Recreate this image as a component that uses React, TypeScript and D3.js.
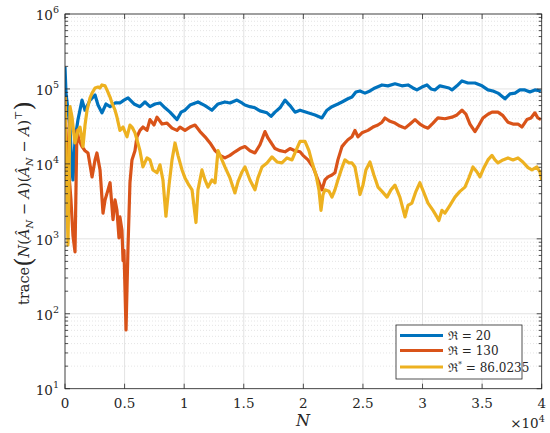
import React from "react";
import * as d3 from "d3";

// sample index N and trace values
const blueN = [0, 84, 420, 590, 670, 840, 1090, 1430, 1680, 2100, 2520, 2770, 3100, 3440, 3780, 4200, 4610, 4950, 5290, 5790, 6290, 6710, 7130, 7550, 7970, 8390, 8810, 9400, 9740, 10070, 10490, 11160, 11750, 12330, 12840, 13420, 13840, 14430, 14850, 15100, 15520, 15940, 16360, 16950, 17290, 17620, 18040, 18460, 18880, 19300, 19720, 20390, 20980, 21560, 21980, 22400, 22900, 23240, 23740, 24080, 24410, 24750, 25170, 25590, 26010, 26600, 27100, 27690, 28270, 28780, 29200, 29530, 29950, 30370, 30710, 31040, 31460, 31880, 32220, 32470, 32890, 33310, 33810, 34400, 34990, 35490, 35910, 36330, 36660, 36920, 37340, 37760, 38170, 38590, 39010, 39430, 39930];
const blueV = [1.96e5, 8.8e4, 3.1e4, 7.8e3, 6.1e3, 2.1e4, 3.9e4, 7.1e4, 5.2e4, 7.1e4, 8.3e4, 6.1e4, 4.8e4, 6.3e4, 5.8e4, 6.5e4, 6.5e4, 7.1e4, 7.6e4, 6.3e4, 5.8e4, 6.7e4, 5.8e4, 6.3e4, 6.5e4, 5.6e4, 4.9e4, 3.9e4, 4.9e4, 5.2e4, 6.1e4, 6.7e4, 6.0e4, 5.2e4, 6.3e4, 6.7e4, 6.5e4, 7.1e4, 6.5e4, 6.1e4, 5.8e4, 5.6e4, 5.1e4, 4.8e4, 4.3e4, 4.9e4, 5.6e4, 7.1e4, 6.0e4, 4.9e4, 5.2e4, 4.8e4, 4.5e4, 4.1e4, 5.2e4, 5.8e4, 6.3e4, 6.7e4, 7.4e4, 7.8e4, 9.1e4, 9.4e4, 8.8e4, 9.4e4, 1.03e5, 1.13e5, 1.1e5, 1.17e5, 1.1e5, 1.13e5, 1.03e5, 9.7e4, 1.06e5, 1.13e5, 1.0e5, 9.7e4, 1.1e5, 1.06e5, 1.03e5, 9.7e4, 1.1e5, 1.28e5, 1.2e5, 1.2e5, 1.1e5, 9.7e4, 9.4e4, 8.8e4, 8.0e4, 7.4e4, 8.6e4, 8.8e4, 9.7e4, 9.7e4, 9.1e4, 9.7e4, 9.4e4];

const redN = [0, 84, 170, 340, 500, 670, 840, 920, 1000, 1170, 1430, 1680, 1930, 2100, 2270, 2520, 2680, 2940, 3190, 3360, 3610, 3780, 4030, 4200, 4360, 4530, 4610, 4780, 4870, 4950, 5120, 5200, 5290, 5450, 5620, 5870, 6040, 6290, 6540, 6880, 7130, 7470, 7720, 8140, 8560, 8980, 9400, 9650, 10070, 10490, 10910, 11330, 11750, 12170, 12590, 13010, 13420, 13840, 14260, 14680, 15100, 15520, 15940, 16360, 16780, 17040, 17620, 18040, 18460, 18880, 19300, 19720, 19970, 20390, 20810, 21230, 21560, 21810, 22070, 22400, 22650, 22900, 23240, 23490, 23740, 24080, 24330, 24580, 24920, 25420, 25840, 26260, 26600, 26850, 27270, 27690, 28100, 28530, 28950, 29370, 29780, 30200, 30460, 30880, 31290, 31880, 32470, 32890, 33310, 33640, 33980, 34400, 34740, 35070, 35490, 35830, 36330, 36750, 37170, 37590, 38010, 38340, 38760, 39100, 39430, 39680, 39930];
const redV = [7.8e4, 2.8e4, 1.5e4, 7.1e3, 3.3e3, 1.1e3, 6.7e2, 4.5e3, 2.8e4, 2.1e4, 1.7e4, 1.5e4, 1.4e4, 9.7e3, 6.7e3, 1.13e4, 1.4e4, 8.3e3, 2.2e3, 3.3e3, 4.5e3, 5.6e3, 1.8e3, 3.3e3, 2.4e3, 1.03e3, 1.96e3, 1.3e3, 5.1e2, 7.0e2, 61, 2.1e2, 8.0e2, 5.6e3, 1.13e4, 1.5e4, 2.3e4, 2.8e4, 3.1e4, 2.8e4, 3.9e4, 3.3e4, 4.2e4, 3.4e4, 3.5e4, 3.0e4, 2.8e4, 3.1e4, 2.8e4, 3.1e4, 3.3e4, 2.7e4, 2.3e4, 1.9e4, 1.5e4, 1.3e4, 1.2e4, 1.3e4, 1.45e4, 1.6e4, 1.7e4, 1.5e4, 1.4e4, 1.8e4, 2.7e4, 2.2e4, 1.6e4, 1.5e4, 1.45e4, 1.6e4, 1.5e4, 1.45e4, 1.3e4, 1.13e4, 9.1e3, 6.1e3, 4.5e3, 6.1e3, 6.7e3, 7.1e3, 7.6e3, 1.13e4, 1.7e4, 1.9e4, 2.1e4, 2.3e4, 2.8e4, 2.3e4, 2.6e4, 2.8e4, 3.1e4, 3.3e4, 3.6e4, 4.1e4, 3.7e4, 3.5e4, 3.2e4, 3.0e4, 3.4e4, 3.9e4, 3.4e4, 3.1e4, 3.0e4, 3.5e4, 4.1e4, 4.0e4, 4.2e4, 4.5e4, 5.2e4, 4.6e4, 3.4e4, 2.7e4, 3.3e4, 4.1e4, 4.6e4, 4.9e4, 4.9e4, 4.4e4, 3.6e4, 3.4e4, 3.4e4, 3.1e4, 3.9e4, 4.1e4, 4.8e4, 4.1e4, 3.9e4];

const yellowN = [0, 84, 170, 250, 340, 420, 590, 760, 840, 1090, 1260, 1510, 1680, 1850, 2100, 2270, 2520, 2770, 2940, 3100, 3360, 3520, 3780, 3940, 4200, 4360, 4610, 4870, 5200, 5450, 5620, 5870, 6040, 6290, 6540, 6880, 7130, 7380, 7720, 7970, 8220, 8470, 8730, 8980, 9230, 9480, 9820, 10070, 10400, 10660, 10990, 11160, 11490, 11750, 12000, 12330, 12590, 12840, 13170, 13420, 13840, 14260, 14520, 14850, 15100, 15520, 15940, 16190, 16530, 16950, 17370, 17790, 18200, 18630, 19050, 19380, 19720, 20140, 20470, 20720, 21060, 21310, 21480, 21650, 21810, 22150, 22400, 22650, 22900, 23240, 23490, 23830, 24080, 24330, 24580, 24750, 25000, 25250, 25590, 25920, 26260, 26600, 27020, 27350, 27690, 28100, 28530, 28780, 29110, 29450, 29780, 30120, 30460, 30880, 31210, 31370, 31630, 31880, 32300, 32720, 33140, 33560, 33890, 34230, 34570, 34820, 35150, 35490, 35830, 36080, 36330, 36750, 37170, 37590, 38010, 38420, 38850, 39180, 39600, 39850, 40000];
const yellowV = [7.8e4, 1.5e4, 3.3e3, 8.3e2, 6.1e3, 5.8e4, 4.2e4, 2.4e4, 1.9e4, 2.8e4, 3.1e4, 1.7e4, 3.3e4, 5.2e4, 7.6e4, 8.8e4, 1.03e5, 1.06e5, 1.03e5, 1.13e5, 1.1e5, 9.7e4, 7.8e4, 6.5e4, 5.2e4, 4.2e4, 2.8e4, 3.1e4, 2.3e4, 3.3e4, 3.1e4, 2.6e4, 2.1e4, 1.5e4, 9.1e3, 1.2e4, 1.13e4, 8.3e3, 7.6e3, 9.7e3, 6.1e3, 2.0e3, 5.2e3, 1.13e4, 1.9e4, 1.3e4, 8.3e3, 6.5e3, 5.2e3, 4.5e3, 1.65e3, 4.5e3, 8.3e3, 6.1e3, 4.9e3, 6.1e3, 5.6e3, 1.5e4, 1.13e4, 9.1e3, 6.5e3, 4.1e3, 5.8e3, 7.8e3, 9.1e3, 6.1e3, 4.5e3, 6.5e3, 9.1e3, 1.03e4, 1.24e4, 1.06e4, 1.03e4, 1.2e4, 1.13e4, 1.5e4, 2.0e4, 2.0e4, 1.5e4, 1.06e4, 7.1e3, 4.5e3, 2.4e3, 3.9e3, 4.5e3, 4.3e3, 3.6e3, 4.5e3, 6.1e3, 8.9e3, 1.13e4, 1.03e4, 1.03e4, 9.1e3, 5.6e3, 3.9e3, 5.2e3, 8.3e3, 1.06e4, 7.1e3, 4.9e3, 4.3e3, 3.6e3, 4.5e3, 5.2e3, 3.6e3, 1.96e3, 2.8e3, 3.0e3, 4.3e3, 5.6e3, 4.1e3, 3.0e3, 2.4e3, 1.96e3, 1.75e3, 2.4e3, 2.2e3, 2.8e3, 3.6e3, 4.3e3, 4.9e3, 6.5e3, 9.1e3, 7.8e3, 6.7e3, 8.9e3, 1.13e4, 1.3e4, 1.13e4, 1.03e4, 1.13e4, 1.2e4, 1.13e4, 1.2e4, 1.06e4, 8.9e3, 8.3e3, 9.1e3, 7.8e3, 6.1e3];

const xTickLabels = ["0", "0.5", "1", "1.5", "2", "2.5", "3", "3.5", "4"];
const yTickExps = [1, 2, 3, 4, 5, 6];
const legendBase = ["\u211C", "\u211C", "\u211C"];
const legendSup = ["", "", "*"];
const legendRest = [" = 20", " = 130", " = 86.0235"];
const colors = ["#0072BD", "#D95319", "#EDB120"];

const W = 550;
const H = 433;
const plot = { left: 65, right: 541.7, top: 14, bottom: 388.7 };
const serif = "DejaVu Serif";
const axisColor = "#262626";

export default function App() {
  const x = d3.scaleLinear().domain([0, 40000]).range([plot.left, plot.right]);
  const y = d3.scaleLog().domain([10, 1e6]).range([plot.bottom, plot.top]);

  const series = [
    { n: blueN, v: blueV },
    { n: redN, v: redV },
    { n: yellowN, v: yellowV },
  ];
  const line = d3
    .line<[number, number]>()
    .x((d) => x(d[0]))
    .y((d) => y(d[1]));

  const allTicks = y.ticks();
  const minor = allTicks.filter((t) => {
    const m = t / Math.pow(10, Math.floor(Math.log10(t) + 1e-9));
    return Math.abs(m - 1) > 1e-6;
  });
  const xt = d3.range(0, 40001, 5000);

  return (
    <div style={{ position: "absolute", left: 0, top: 0 }}>
      <svg width={W} height={H} style={{ display: "block", background: "#fff", fontFamily: serif }}>
        <rect x={plot.left} y={plot.top} width={plot.right - plot.left} height={plot.bottom - plot.top} fill="#fff" />
        {/* minor grid */}
        {minor.map((t) => (
          <line key={"mg" + t} x1={plot.left} x2={plot.right} y1={y(t)} y2={y(t)}
            stroke="#d4d4d4" strokeWidth={0.6} strokeDasharray="1,2" />
        ))}
        {/* major grid */}
        {yTickExps.map((e) => (
          <line key={"gy" + e} x1={plot.left} x2={plot.right} y1={y(Math.pow(10, e))} y2={y(Math.pow(10, e))}
            stroke="#e3e3e3" strokeWidth={1} />
        ))}
        {xt.map((t) => (
          <line key={"gx" + t} x1={x(t)} x2={x(t)} y1={plot.top} y2={plot.bottom} stroke="#e3e3e3" strokeWidth={1} />
        ))}

        <g clipPath="url(#clip)">
          {series.map((s, i) => (
            <path key={i}
              d={line(s.n.map((nn, j) => [nn, s.v[j]] as [number, number])) as string}
              fill="none" stroke={colors[i]} strokeWidth={3.2} strokeLinejoin="round" />
          ))}
        </g>
        <defs>
          <clipPath id="clip">
            <rect x={plot.left} y={plot.top - 2} width={plot.right - plot.left} height={plot.bottom - plot.top + 2} />
          </clipPath>
        </defs>

        {/* axes box */}
        <rect x={plot.left} y={plot.top} width={plot.right - plot.left} height={plot.bottom - plot.top}
          fill="none" stroke={axisColor} strokeWidth={0.8} />
        {/* y ticks */}
        {allTicks.map((t) => {
          const isMajor = !minor.includes(t);
          const len = isMajor ? 5 : 3;
          return (
            <g key={"yt" + t}>
              <line x1={plot.left} x2={plot.left + len} y1={y(t)} y2={y(t)} stroke={axisColor} strokeWidth={0.8} />
              <line x1={plot.right} x2={plot.right - len} y1={y(t)} y2={y(t)} stroke={axisColor} strokeWidth={0.8} />
            </g>
          );
        })}
        {xt.map((t) => (
          <g key={"xt" + t}>
            <line x1={x(t)} x2={x(t)} y1={plot.bottom} y2={plot.bottom - 5} stroke={axisColor} strokeWidth={0.8} />
            <line x1={x(t)} x2={x(t)} y1={plot.top} y2={plot.top + 5} stroke={axisColor} strokeWidth={0.8} />
          </g>
        ))}

        {/* x tick labels */}
        {xt.map((t, i) => (
          <text key={"xl" + t} x={x(t)} y={plot.bottom + 19} textAnchor="middle"
            fontSize={13.5} fill={axisColor}>{xTickLabels[i]}</text>
        ))}
        <text x={plot.right + 3} y={428} textAnchor="end" fontSize={13.5} fill={axisColor}>
          ×10<tspan dy={-6} fontSize={9.5}>4</tspan>
        </text>

        {/* y tick labels */}
        {yTickExps.map((e) => (
          <text key={"yl" + e} x={plot.left - 6} y={y(Math.pow(10, e)) + 6} textAnchor="end"
            fontSize={13.5} fill={axisColor}>
            10<tspan dy={-7} fontSize={9.5}>{e}</tspan>
          </text>
        ))}

        {/* axis labels */}
        <text x={303} y={426} textAnchor="middle" fontStyle="italic" fontSize={16} fill={axisColor}>N</text>
        <text transform="translate(29,203) rotate(-90)" textAnchor="middle" fontSize={14.5} fill={axisColor}>
          trace<tspan fontSize={24} dy={3}>(</tspan>
          <tspan dy={-3} fontStyle="italic">N</tspan>(<tspan fontStyle="italic">Â</tspan>
          <tspan fontStyle="italic" fontSize={10} dy={4}>N</tspan>
          <tspan dy={-4}> − </tspan><tspan fontStyle="italic">A</tspan>)(<tspan fontStyle="italic">Â</tspan>
          <tspan fontStyle="italic" fontSize={10} dy={4}>N</tspan>
          <tspan dy={-4}> − </tspan><tspan fontStyle="italic">A</tspan>)
          <tspan fontSize={10} dy={-7}>⊤</tspan>
          <tspan fontSize={24} dy={10}>)</tspan>
        </text>

        {/* legend */}
        <rect x={396} y={325} width={126} height={54} fill="#fff" stroke={axisColor} strokeWidth={0.8} />
        {legendRest.map((lab, i) => {
          const ly = [335.5, 350.5, 367][i];
          return (
            <g key={"lg" + i}>
              <line x1={400} x2={443} y1={ly} y2={ly} stroke={colors[i]} strokeWidth={3} />
              <text x={448} y={ly + 4.5} fontSize={12} fill={axisColor}>
                {legendBase[i]}
                {legendSup[i] ? <tspan dy={-5} fontSize={8}>{legendSup[i]}</tspan> : null}
                <tspan dy={legendSup[i] ? 5 : 0}>{lab}</tspan>
              </text>
            </g>
          );
        })}
      </svg>
    </div>
  );
}
